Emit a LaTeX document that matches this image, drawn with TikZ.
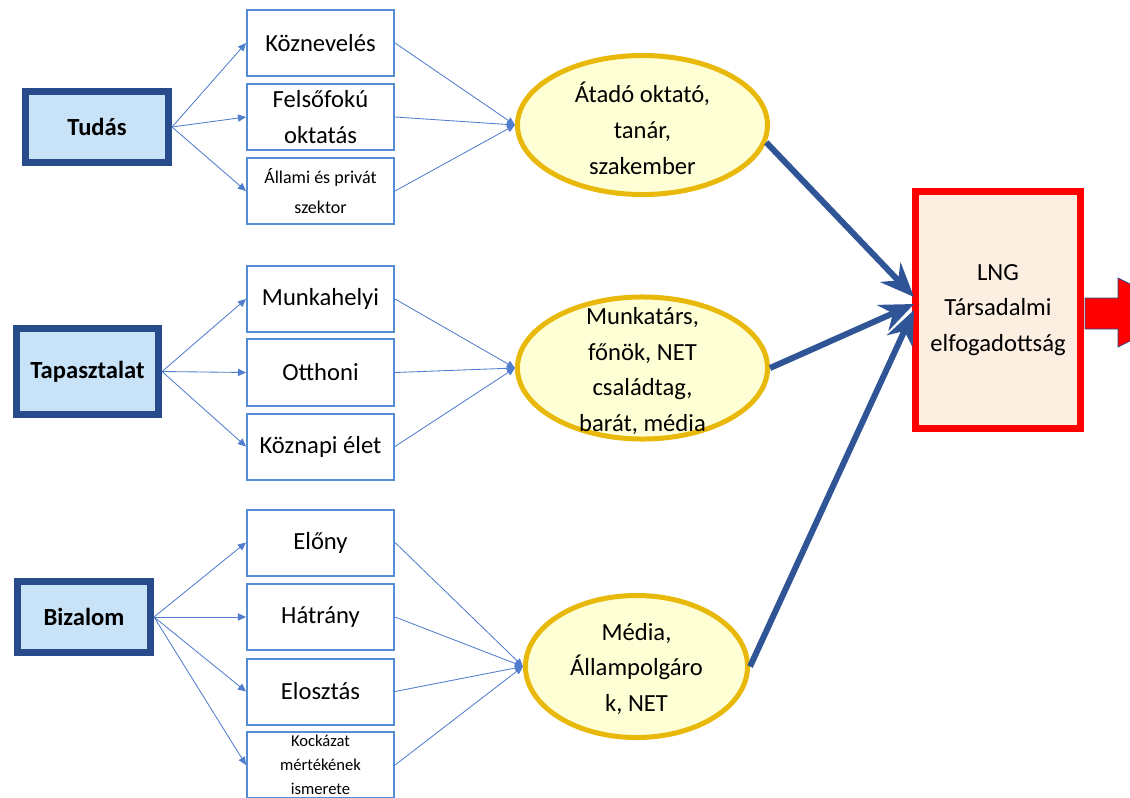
\documentclass[tikz,border=0pt]{standalone}
\usepackage{fontspec}
\setmainfont{Carlito}
\usetikzlibrary{shapes.geometric,arrows.meta}
\definecolor{navyedge}{RGB}{40,75,140}
\definecolor{paleblue}{RGB}{200,226,248}
\definecolor{boxedge}{RGB}{84,141,212}
\definecolor{thinline}{RGB}{80,125,205}
\definecolor{thickline}{RGB}{47,85,151}
\definecolor{gold}{RGB}{232,185,10}
\definecolor{paleyellow}{RGB}{255,255,214}
\definecolor{peach}{RGB}{253,238,226}

\tikzset{
  mainbox/.style={draw=navyedge, fill=paleblue, line width=0.175cm, inner sep=0pt,
    font=\bfseries\fontsize{17.5}{21}\selectfont},
  subbox/.style={draw=boxedge, fill=white, line width=0.05cm, minimum width=3.675cm,
    minimum height=1.65cm, inner sep=0pt, align=center, font=\fontsize{17.5}{25.5}\selectfont},
  oval/.style={ellipse, draw=gold, fill=paleyellow, line width=0.125cm, inner sep=0pt},
  ovaltext/.style={align=center, font=\fontsize{17.5}{25.5}\selectfont},
  feed/.style={thinline, line width=0.6pt, -{Triangle[length=0.2cm,width=0.18cm]}},
  push/.style={thickline, line width=0.15cm, -{Stealth[length=0.85cm,width=0.7cm]}}
}

\begin{document}
\begin{tikzpicture}[x=0.025cm,y=-0.025cm]
\useasboundingbox (0,0) rectangle (1130,797);
\clip (0,0) rectangle (1130,797);

\node[mainbox, minimum width=3.575cm, minimum height=1.75cm] (tudas) at (97,127) {Tudás};
\node[mainbox, minimum width=3.55cm, minimum height=2.15cm] (tapasztalat) at (87.5,371.5) {Tapasztalat};
\node[mainbox, minimum width=3.325cm, minimum height=1.775cm] (bizalom) at (84,617) {Bizalom};

\node[subbox] (kozneveles) at (320.5,43) {Köznevelés};
\node[subbox] (felsofoku) at (320.5,117) {Felsőfokú\\oktatás};
\node[subbox, font=\fontsize{12.8}{21}\selectfont] (allami) at (320.5,191) {Állami és privát\\szektor};
\node[subbox] (munkahelyi) at (320.5,299) {Munkahelyi};
\node[subbox] (otthoni) at (320.5,372.5) {Otthoni};
\node[subbox] (koznapi) at (320.5,446.5) {Köznapi élet};
\node[subbox] (elony) at (320.5,542.5) {Előny};
\node[subbox] (hatrany) at (320.5,617) {Hátrány};
\node[subbox] (elosztas) at (320.5,691.5) {Elosztás};
\node[subbox, font=\fontsize{11.8}{17}\selectfont] (kockazat) at (320.5,765) {Kockázat\\mértékének\\ismerete};

\node[oval, minimum width=6.25cm, minimum height=3.475cm] (atado) at (642.5,125) {};
\node[ovaltext] (atado text) at (642.5,128) {Átadó oktató,\\tanár,\\szakember};
\node[oval, minimum width=6.25cm, minimum height=3.55cm] (munkatars) at (642.5,368) {};
\node[ovaltext] (munkatars text) at (642.5,371) {Munkatárs,\\főnök, NET\\családtag,\\barát, média};
\node[oval, minimum width=5.55cm, minimum height=3.55cm] (media) at (636.5,666.5) {};
\node[ovaltext] (media text) at (636.5,669) {Média,\\Állampolgáro\\k, NET};

\node[draw=red, fill=peach, line width=0.175cm, minimum width=4.125cm, minimum height=5.925cm,
  align=center, font=\fontsize{17.5}{25.5}\selectfont] (lng) at (998,310) {LNG\\Társadalmi\\elfogadottság};
\draw[fill=red, draw=navyedge, line width=0.6pt] (1085,298) -- (1118,298) -- (1118,278) -- (1187,312.5)
  -- (1118,347) -- (1118,329) -- (1085,329) -- cycle;

\draw[feed] (tudas.east) -- (kozneveles.west);
\draw[feed] (tudas.east) -- (felsofoku.west);
\draw[feed] (tudas.east) -- (allami.west);
\draw[feed] (tapasztalat.east) -- (munkahelyi.west);
\draw[feed] (tapasztalat.east) -- (otthoni.west);
\draw[feed] (tapasztalat.east) -- (koznapi.west);
\draw[feed] (bizalom.east) -- (elony.west);
\draw[feed] (bizalom.east) -- (hatrany.west);
\draw[feed] (bizalom.east) -- (elosztas.west);
\draw[feed] (bizalom.east) -- (kockazat.west);

\draw[feed] (kozneveles.east) -- (atado.west);
\draw[feed] (felsofoku.east) -- (atado.west);
\draw[feed] (allami.east) -- (atado.west);
\draw[feed] (munkahelyi.east) -- (munkatars.west);
\draw[feed] (otthoni.east) -- (munkatars.west);
\draw[feed] (koznapi.east) -- (munkatars.west);
\draw[feed] (elony.east) -- (media.west);
\draw[feed] (hatrany.east) -- (media.west);
\draw[feed] (elosztas.east) -- (media.west);
\draw[feed] (kockazat.east) -- (media.west);

\coordinate (hub1) at (914,297);
\coordinate (hub2) at (914,304);
\coordinate (hub3) at (914,310);
\draw[push] (atado.-8) -- (hub1);
\draw[push] (munkatars.east) -- (hub2);
\draw[push] (media.east) -- (hub3);
\end{tikzpicture}
\end{document}
